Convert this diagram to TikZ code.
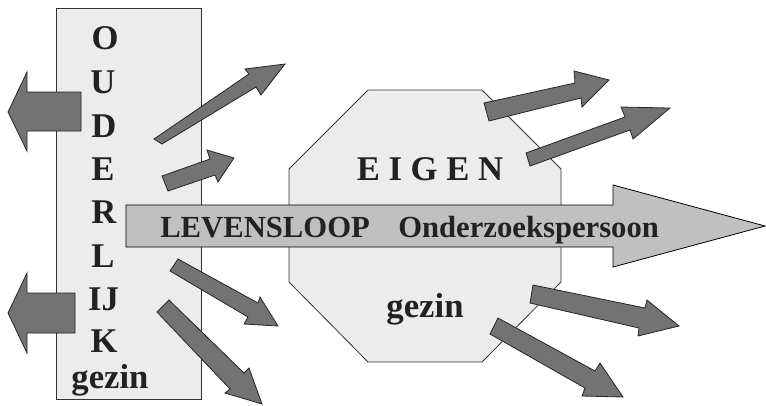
\documentclass[tikz,border=0pt]{standalone}
\usepackage{fontspec}
\setmainfont{Liberation Serif}
\definecolor{lightfill}{HTML}{ECECEC}
\definecolor{midfill}{HTML}{C0C0C0}
\definecolor{darkfill}{HTML}{737373}
\definecolor{inkc}{HTML}{222222}
\begin{document}
\begin{tikzpicture}[x=0.75pt,y=-0.75pt,
  panel/.style={draw=black!80,line width=0.6pt,fill=lightfill},
  bigarrow/.style={draw=black,line width=0.6pt,fill=midfill,line join=miter},
  darrow/.style={draw=black!85,line width=0.6pt,fill=darkfill,line join=miter},
  letter/.style={anchor=base,inner sep=0pt,text=inkc,font=\fontsize{26}{28}\selectfont\bfseries},
  maintext/.style={anchor=base west,inner sep=0pt,text=inkc,font=\fontsize{23}{25}\selectfont\bfseries}]
\useasboundingbox (0,0) rectangle (766,405);
% left panel
\path[panel] (56,8) rectangle (201,399);
% left arrows
\path[darrow] (81,92) -- (27,92) -- (27,72) -- (8,112) -- (27,151) -- (27,131) -- (81,131) -- cycle;
\path[darrow] (75,293) -- (27,293) -- (27,273) -- (8,313) -- (27,353) -- (27,333) -- (75,333) -- cycle;
% octagon
\path[panel] (368,90) -- (482,90) -- (561,169) -- (561,282) -- (482,362) -- (368,362) -- (289,282) -- (289,169) -- cycle;
% small arrows from left panel
\path[darrow] (154,139) -- (249,74) -- (245,69) -- (285,64) -- (261,95) -- (256,87) -- (162,144) -- cycle;
\path[darrow] (162,176) -- (210,159) -- (207,150) -- (234,158) -- (218,182) -- (215,175) -- (168,191) -- cycle;
\path[darrow] (178,259) -- (258,303) -- (260,297) -- (278,326) -- (244,324) -- (248,317) -- (170,271) -- cycle;
\path[darrow] (169,300) -- (244,373) -- (249,368) -- (262,404) -- (225,393) -- (230,389) -- (157,312) -- cycle;
% small arrows from octagon
\path[darrow] (484,103) -- (575,83) -- (574,71) -- (609,80) -- (582,107) -- (581,98) -- (489,121) -- cycle;
\path[darrow] (526,153) -- (625,117) -- (621,107) -- (670,108) -- (633,139) -- (630,130) -- (530,166) -- cycle;
\path[darrow] (533,285) -- (645,308) -- (647,300) -- (679,326) -- (638,336) -- (639,328) -- (530,303) -- cycle;
\path[darrow] (498,318) -- (595,371) -- (600,363) -- (623,397) -- (582,396) -- (585,388) -- (490,334) -- cycle;
% main arrow
\path[bigarrow] (126,205) -- (613,205) -- (613,185) -- (765,226) -- (613,267) -- (613,247) -- (126,247) -- cycle;
% texts
\node[letter] (o) at (105,49) {O};
\node[letter] (u) at (103,93) {U};
\node[letter] (d) at (104,137) {D};
\node[letter] (e) at (103,180) {E};
\node[letter] (r) at (104,223) {R};
\node[letter] (l) at (103,267) {L};
\node[letter] (ij) at (103.5,310) {IJ};
\node[letter] (k) at (104,352) {K};
\node[letter] (g1) at (110,388) {gezin};
\node[letter] (eigen) at (430,180) {E I G E N};
\node[letter] (g2) at (425,317) {gezin};
\node[maintext] (lev) at (160,237) {LEVENSLOOP};
\node[maintext] (ond) at (398,237) {Onderzoekspersoon};
\end{tikzpicture}
\end{document}
